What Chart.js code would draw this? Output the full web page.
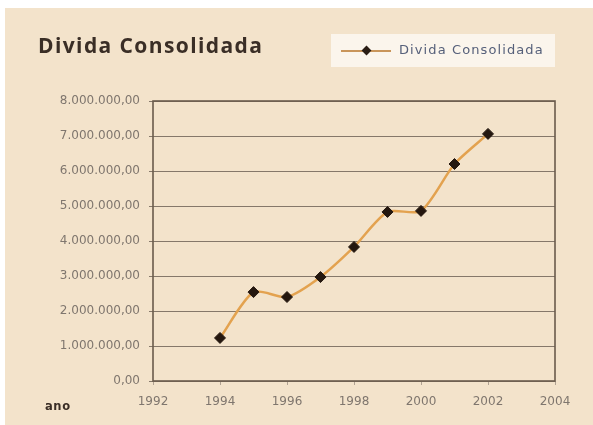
<!DOCTYPE html>
<html><head><meta charset="utf-8">
<script src="https://cdn.jsdelivr.net/npm/chart.js@4/dist/chart.umd.min.js"></script>
<style>
html,body{margin:0;padding:0;background:#fff;width:593px;height:425px;overflow:hidden;}
#bg{position:absolute;left:5px;top:8px;right:0;bottom:0;background:#f3e3cb;}
#wrap{position:absolute;left:0;top:0;width:593px;height:425px;}
#title{position:absolute;left:38px;top:31px;font:bold 21px "Open Sans",sans-serif;color:#3a2e26;letter-spacing:1.4px;}
#legend{position:absolute;left:331px;top:34px;width:224px;height:33px;background:#fbf5ec;}
#legend .ln{position:absolute;left:10px;top:16px;width:50px;height:2px;background:#c9955a;}
#legend .dm{position:absolute;left:32px;top:13px;width:7px;height:7px;background:#2a1d14;transform:rotate(45deg);}
#legend .tx{position:absolute;left:68px;top:8px;font:13px "DejaVu Sans",sans-serif;color:#56607a;letter-spacing:1.1px;}
#ano{position:absolute;left:45px;top:399px;font:bold 11.5px "DejaVu Sans",sans-serif;color:#3a2e26;letter-spacing:0.6px;}
</style></head>
<body>
<div id="bg"></div>
<div id="wrap"><canvas id="c" width="593" height="425"></canvas></div>
<div id="title">Divida Consolidada</div>
<div id="legend"><div class="ln"></div><div class="dm"></div><div class="tx">Divida Consolidada</div></div>
<div id="ano">ano</div>
<script>
const years = [1994,1995,1996,1997,1998,1999,2000,2001,2002];
const divida = [1230000,2540000,2400000,2970000,3830000,4830000,4860000,6200000,7060000];
const xTicks = [1992,1994,1996,1998,2000,2002,2004];
const yTicks = [0,1000000,2000000,3000000,4000000,5000000,6000000,7000000,8000000];

function fmt(v){
  const s = Math.round(v).toString().replace(/\B(?=(\d{3})+(?!\d))/g,'.');
  return s + ',00';
}

const borderPlugin = {
  id:'border',
  afterDraw(chart){
    const a = chart.chartArea, ctx = chart.ctx;
    ctx.save();
    ctx.strokeStyle = '#6a5b4c';
    ctx.lineWidth = 1.6;
    ctx.strokeRect(a.left, a.top, a.right-a.left, a.bottom-a.top);
    ctx.restore();
  }
};

new Chart(document.getElementById('c'), {
  type:'line',
  data:{
    datasets:[{
      label:'Divida Consolidada',
      data: years.map((y,i)=>({x:y,y:divida[i]})),
      borderColor:'#e3a24f',
      borderWidth:2.5,
      tension:0.25,
      pointStyle:'rectRot',
      pointRadius:5.5,
      pointBackgroundColor:'#24170f',
      pointBorderColor:'#24170f',
      pointBorderWidth:1
    }]
  },
  options:{
    responsive:false,
    animation:false,
    layout:{padding:{top:101,right:38,left:0,bottom:0}},
    plugins:{legend:{display:false},title:{display:false},tooltip:{enabled:false}},
    scales:{
      x:{
        type:'linear', min:1992, max:2004,
        afterBuildTicks(s){ s.ticks = xTicks.map(v=>({value:v})); },
        afterFit(s){ s.height = 44; },
        grid:{drawOnChartArea:false, color:'#9a8b7b', tickLength:4, tickColor:'#b0a292'},
        border:{display:false},
        ticks:{color:'#7f766e', font:{family:'DejaVu Sans', size:12}, padding:10,
               callback:v=>String(v)}
      },
      y:{
        min:0, max:8000000,
        afterBuildTicks(s){ s.ticks = yTicks.map(v=>({value:v})); },
        afterFit(s){ s.width = 153; },
        grid:{color:'#85786a', lineWidth:1, tickLength:4, tickColor:'#85786a'},
        border:{display:false},
        ticks:{color:'#7f766e', font:{family:'DejaVu Sans', size:12}, padding:9,
               callback:v=>fmt(v)}
      }
    }
  },
  plugins:[borderPlugin]
});
</script>
</body></html>
